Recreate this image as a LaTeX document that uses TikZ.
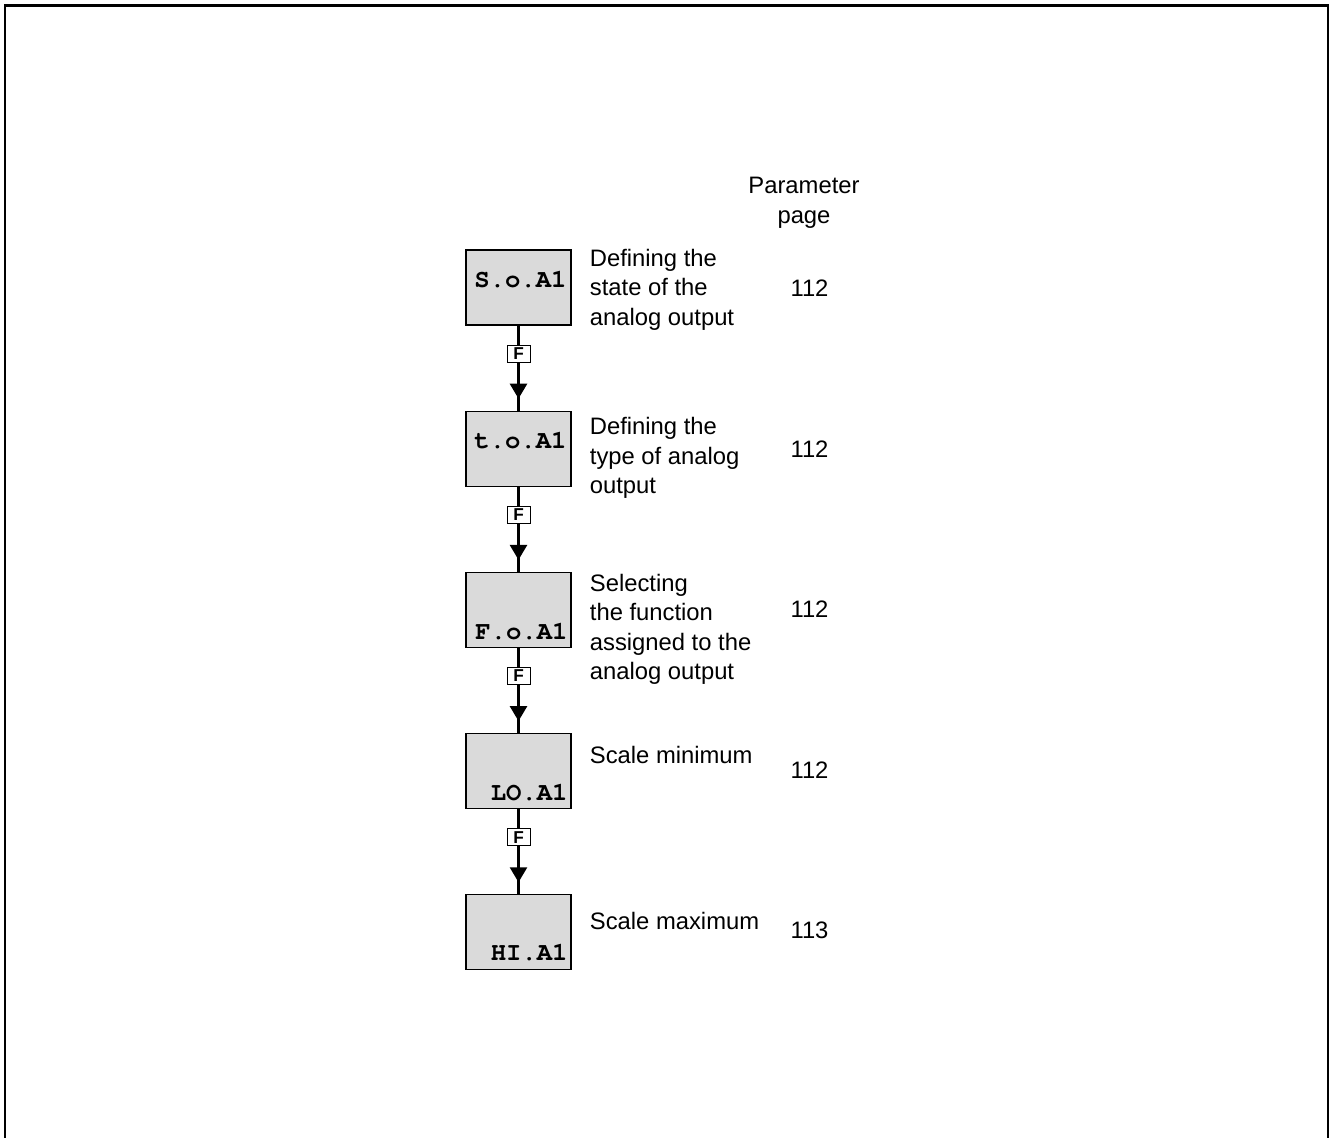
\documentclass[tikz,border=0pt]{standalone}
\usepackage{fontspec}
\setmainfont{Liberation Sans}
\newfontfamily\lcdfont{TeX Gyre Cursor}
\usepackage{tikz}
\usetikzlibrary{arrows.meta,positioning,decorations.markings}
\definecolor{boxgray}{RGB}{218,218,218}

\begin{document}
\begin{tikzpicture}[
		x=0.5pt, y=-0.5pt,
		node distance=42.5pt,
		param/.style={
			rectangle,
			draw,
			line width=0.6pt,
			fill=boxgray,
			minimum width=52.5pt,
			minimum height=37.5pt,
			inner sep=0pt
		},
		lcd/.style={inner sep=0pt, font=\lcdfont\bfseries\fontsize{12.8}{13}\selectfont},
		desc/.style={align=left, inner sep=0pt, anchor=base west, font=\fontsize{11.9}{14.75}\selectfont},
		pagenum/.style={inner sep=0pt, anchor=base, font=\fontsize{11.9}{14}\selectfont},
		fkey/.style={
			draw,
			fill=white,
			line width=0.5pt,
			minimum width=11.5pt,
			minimum height=8.5pt,
			inner sep=0pt,
			font=\bfseries\fontsize{8.6}{9}\selectfont
		},
		flow/.style={
			line width=1.3pt,
			postaction={decorate},
			decoration={markings, mark=at position 0.86 with {\arrow{Triangle[length=7.5pt,width=8.5pt]}}}
		}
		]
		\useasboundingbox (0,0) rectangle (1330,1138);
		% frame (open at the bottom)
		\draw[line width=1.25pt] (5,1138) -- (5,5.5) -- (1328,5.5) -- (1328,1138);

		\node[param] (soa) at (518.5,287.5) {};
		\node[param, below=of soa] (toa) {};
		\node[param, below=of toa] (foa) {};
		\node[param, below=of foa] (loa) {};
		\node[param, below=of loa] (hia) {};

		\node[lcd, anchor=base] (soatxt) at ([xshift=1pt]soa.center) {S.o.A1};
		\node[lcd, anchor=base] (toatxt) at ([xshift=1pt]toa.center) {t.o.A1};
		\node[lcd, anchor=base east] (foatxt) at ([xshift=-1.8pt,yshift=4.2pt]foa.south east) {F.o.A1};
		\node[lcd, anchor=base east] (loatxt) at ([xshift=-1.8pt,yshift=4.5pt]loa.south east) {LO.A1};
		\node[lcd, anchor=base east] (hiatxt) at ([xshift=-1.8pt,yshift=4.8pt]hia.south east) {HI.A1};

		\draw[flow] (soa) -- (toa) node[fkey, pos=0.33] (f1) {F};
		\draw[flow] (toa) -- (foa) node[fkey, pos=0.33] (f2) {F};
		\draw[flow] (foa) -- (loa) node[fkey, pos=0.33] (f3) {F};
		\draw[flow] (loa) -- (hia) node[fkey, pos=0.33] (f4) {F};

		% descriptions and page numbers (base = last line)
		\node[pagenum, align=center, font=\fontsize{11.9}{15}\selectfont] (head) at (804,224) {Parameter\\page};
		\node[desc] (soadesc) at (589.5,325.5) {Defining the\\state of the\\analog output};
		\node[desc] (toadesc) at (589.5,494) {Defining the\\type of analog\\output};
		\node[desc] (foadesc) at (589.5,680) {Selecting\\the function\\assigned to the\\analog output};
		\node[desc] (loadesc) at (589.5,763.3) {Scale minimum};
		\node[desc] (hiadesc) at (589.5,929.3) {Scale maximum};
		\node[pagenum] (soapg) at (809.5,297) {112};
		\node[pagenum] (toapg) at (809.5,457.7) {112};
		\node[pagenum] (foapg) at (809.5,618) {112};
		\node[pagenum] (loapg) at (809.5,778.7) {112};
		\node[pagenum] (hiapg) at (809.5,938.7) {113};
	\end{tikzpicture}
\end{document}
